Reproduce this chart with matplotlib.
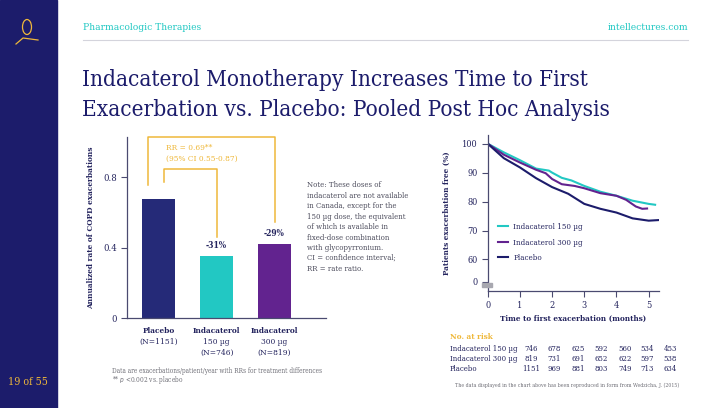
import matplotlib.pyplot as plt
from matplotlib import font_manager
from matplotlib.patches import Rectangle, Ellipse

# --- data ---
bar_names = ["Placebo", "Indacaterol", "Indacaterol"]
bar_doses = ["", "150 µg", "300 µg"]
bar_n = ["(N=1151)", "(N=746)", "(N=819)"]
bar_rates = [0.68, 0.35, 0.42]
bar_change = ["", "-31%", "-29%"]

months_150 = [0, 0.5, 1, 1.5, 1.9, 2.0, 2.3, 2.6, 3.0, 3.5, 4.0, 4.5, 5.0, 5.2]
free_150 = [100, 97.0, 94.3, 91.4, 90.7, 90.0, 88.2, 87.3, 85.4, 83.4, 82.0, 80.3, 79.2, 78.9]
months_300 = [0, 0.5, 1, 1.5, 1.8, 2.0, 2.3, 2.7, 3.0, 3.5, 4.0, 4.3, 4.6, 4.8, 4.95]
free_300 = [100, 96.2, 93.5, 91.0, 89.8, 87.8, 86.0, 85.4, 84.6, 82.9, 82.0, 80.6, 78.3, 77.5, 77.6]
months_pbo = [0, 0.5, 1, 1.5, 2.0, 2.5, 3.0, 3.5, 4.0, 4.5, 5.0, 5.3]
free_pbo = [100, 95.0, 91.8, 88.1, 85.0, 82.7, 79.2, 77.5, 76.2, 74.2, 73.4, 73.6]

risk_rows = ["Indacaterol 150 µg", "Indacaterol 300 µg", "Placebo"]
risk_150 = [746, 678, 625, 592, 560, 534, 453]
risk_300 = [819, 731, 691, 652, 622, 597, 538]
risk_pbo = [1151, 969, 881, 803, 749, 713, 634]

NAVY = "#1c1c6b"
TEXT = "#24245e"
TEAL = "#22c8c3"
PURPLE = "#62238f"
BAR_NAVY = "#252a78"
GOLD = "#efb83a"
GREY = "#707078"

W, H = 725, 408

# use a condensed serif if one is installed, otherwise plain DejaVu Serif
fonts = font_manager.fontManager.ttflist
names = {f.name for f in fonts}
K = 1.0
if "DejaVu Serif Condensed" in names:
    plt.rcParams["font.family"] = ["DejaVu Serif Condensed", "DejaVu Serif"]
    K = 1.1
elif any(f.name == "DejaVu Serif" and f.stretch == "condensed" for f in fonts):
    plt.rcParams["font.family"] = ["DejaVu Serif"]
    plt.rcParams["font.stretch"] = "condensed"
    K = 1.1
else:
    plt.rcParams["font.family"] = ["DejaVu Serif"]


def fs(size):
    return size * K


def fx(x):
    return x / W


def fy(y):
    return 1 - y / H


fig = plt.figure(figsize=(7.25, 4.08), dpi=100)
fig.patch.set_facecolor("white")

# sidebar with a small owl mark
fig.add_artist(Rectangle((0, 0), fx(57), 1, transform=fig.transFigure,
                         color=NAVY, zorder=0))
fig.add_artist(Ellipse((fx(27), fy(27)), fx(9), 15 / H, transform=fig.transFigure,
                       fill=False, ec=GOLD, lw=0.9))
fig.add_artist(plt.Line2D([fx(16), fx(23), fx(38)], [fy(44), fy(38), fy(40)],
                          transform=fig.transFigure, color=GOLD, lw=0.9))
fig.text(fx(28), fy(382), "19 of 55", color=GOLD, fontsize=fs(7.0),
         ha="center", va="center")

# header
fig.text(fx(83), fy(28), "Pharmacologic Therapies", color=TEAL, fontsize=fs(6.6),
         va="center")
fig.text(fx(688), fy(28), "intellectures.com", color=TEAL, fontsize=fs(6.6),
         va="center", ha="right")
fig.add_artist(plt.Line2D([fx(83), fx(688)], [fy(40), fy(40)],
                          transform=fig.transFigure, color="#d4d4dc", lw=0.8))

fig.text(fx(82), fy(80), "Indacaterol Monotherapy Increases Time to First",
         color=NAVY, fontsize=fs(14.7), va="center")
fig.text(fx(82), fy(110), "Exacerbation vs. Placebo: Pooled Post Hoc Analysis",
         color=NAVY, fontsize=fs(14.7), va="center")

# --- bar chart ---
ax = fig.add_axes([fx(127), fy(318), (326 - 127) / W, (318 - 137) / H])
xs = range(len(bar_rates))
ax.bar(xs, bar_rates, width=0.57, color=[BAR_NAVY, TEAL, PURPLE])
ax.set_xlim(-0.55, 2.89)
ax.set_ylim(0, 1.03)
ax.set_yticks([0, 0.4, 0.8])
ax.set_yticklabels(["0", "0.4", "0.8"])
ax.set_xticks([])
for s in ["top", "right"]:
    ax.spines[s].set_visible(False)
for s in ["left", "bottom"]:
    ax.spines[s].set_color("#4a4a70")
    ax.spines[s].set_linewidth(0.9)
ax.tick_params(axis="y", length=4, width=0.8, color="#4a4a70",
               labelsize=fs(6.2), labelcolor=TEXT, pad=3)
ax.set_ylabel("Annualized rate of COPD exacerbations", fontsize=fs(5.4),
              fontweight="bold", color=TEXT, labelpad=6)

for i, (v, lab) in enumerate(zip(bar_rates, bar_change)):
    if lab:
        ax.text(i, v + 0.035, lab, ha="center", va="bottom", fontsize=fs(5.6),
                color=TEXT, fontweight="bold")
    ax.text(i, -0.075, bar_names[i], ha="center", va="center", fontsize=fs(5.4),
            fontweight="bold", color=TEXT, clip_on=False)
    rest = [t for t in (bar_doses[i], bar_n[i]) if t]
    for k, t in enumerate(rest):
        ax.text(i, -0.135 - 0.064 * k, t, ha="center", va="center",
                fontsize=fs(5.5), color=TEXT, clip_on=False)

# RR brackets
top_out = 1.031
ax.plot([-0.19, -0.19, 2.0, 2.0],
        [bar_rates[0] + 0.077, top_out, top_out, bar_rates[2] + 0.128],
        color=GOLD, lw=1.1, clip_on=False)
ax.plot([0.097, 0.097, 1.0, 1.0],
        [bar_rates[0] + 0.094, 0.846, 0.846, bar_rates[1] + 0.112],
        color=GOLD, lw=1.1, clip_on=False)
ax.text(0.13, 0.965, "RR = 0.69**", color=GOLD, fontsize=fs(5.4), va="center")
ax.text(0.13, 0.907, "(95% CI 0.55-0.87)", color=GOLD, fontsize=fs(5.4),
        va="center")

# note
note = ("Note: These doses of\nindacaterol are not available\nin Canada, except for the\n"
        "150 µg dose, the equivalent\nof which is available in\nfixed-dose combination\n"
        "with glycopyrronium.")
fig.text(fx(307), fy(181), note, fontsize=fs(5.05), color="#4c4c5c", va="top",
         linespacing=1.42)
fig.text(fx(307), fy(254), "CI = confidence interval;\nRR = rate ratio.",
         fontsize=fs(5.05), color="#4c4c5c", va="top", linespacing=1.42)

fig.text(fx(112), fy(371), "Data are exacerbations/patient/year with RRs for treatment differences",
         fontsize=fs(4.3), color=GREY, va="center")
fig.text(fx(112), fy(380), "** $p$ <0.002 vs. placebo", fontsize=fs(4.3),
         color=GREY, va="center")

# --- KM curves ---
ax2 = fig.add_axes([fx(487.7), fy(291), (659.3 - 487.7) / W, (291 - 135) / H])
ax2.plot(months_150, free_150, color=TEAL, lw=1.5, label="Indacaterol 150 µg")
ax2.plot(months_300, free_300, color=PURPLE, lw=1.5, label="Indacaterol 300 µg")
ax2.plot(months_pbo, free_pbo, color=NAVY, lw=1.5, label="Placebo")
ax2.set_xlim(0, 5.33)
ax2.set_ylim(49.1, 103)
ax2.set_xticks([0, 1, 2, 3, 4, 5])
ax2.set_yticks([52.3, 60, 70, 80, 90, 100])
ax2.set_yticklabels(["0", "60", "70", "80", "90", "100"])
for s in ["top", "right"]:
    ax2.spines[s].set_visible(False)
for s in ["left", "bottom"]:
    ax2.spines[s].set_color("#4a4a70")
    ax2.spines[s].set_linewidth(0.9)
ax2.tick_params(length=4, width=0.8, color="#4a4a70", labelsize=fs(6.0),
                labelcolor=TEXT, pad=3)
ax2.set_xlabel("Time to first exacerbation (months)", fontsize=fs(5.3),
               fontweight="bold", color=TEXT, labelpad=4)
ax2.set_ylabel("Patients exacerbation free (%)", fontsize=fs(5.3),
               fontweight="bold", color=TEXT, labelpad=8)
ax2.add_patch(Rectangle((-0.17, 50.6), 0.3, 1.1, color="#a8a8b0",
                        clip_on=False, zorder=5))
ax2.legend(loc="upper left", bbox_to_anchor=(0.06, 0.435), frameon=False,
           fontsize=fs(5.2), handlelength=1.3, handletextpad=0.65,
           labelspacing=0.95, borderpad=0, borderaxespad=0, labelcolor=TEXT)

# --- number at risk ---
fig.text(fx(450), fy(337), "No. at risk", color=GOLD, fontsize=fs(5.3),
         fontweight="bold", va="center")
col_x = [531, 554, 578, 601, 625, 647, 670]
for r, (name, vals) in enumerate(zip(risk_rows, [risk_150, risk_300, risk_pbo])):
    yy = 349 + 10 * r
    fig.text(fx(450), fy(yy), name, color=TEXT, fontsize=fs(5.1), va="center")
    for cx, v in zip(col_x, vals):
        fig.text(fx(cx), fy(yy), str(v), color=TEXT, fontsize=fs(5.1),
                 va="center", ha="center")

fig.text(fx(455), fy(385),
         "The data displayed in the chart above has been reproduced in form from Wedzicha, J. (2015)",
         fontsize=fs(3.4), color=GREY, va="center")

fig.savefig("out.png", dpi=100)
